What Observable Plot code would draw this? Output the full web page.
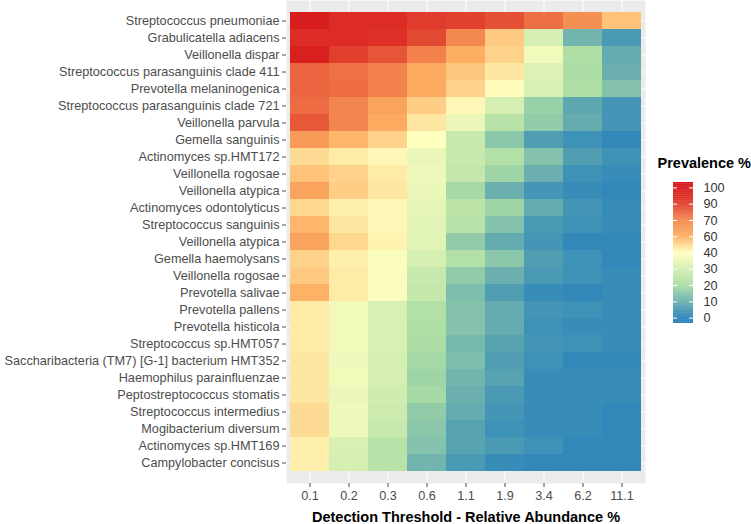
<!DOCTYPE html>
<html><head><meta charset="utf-8">
<script src="https://cdn.jsdelivr.net/npm/d3@7"></script>
<script src="https://cdn.jsdelivr.net/npm/@observablehq/plot@0.6"></script>
<style>
body{margin:0;background:#fff;}
#wrap{position:relative;width:751px;height:524px;font-family:"Liberation Sans",Arial,sans-serif;}
#legend{position:absolute;left:650px;top:140px;}
</style></head><body><div id="wrap"><div id="chart"></div><div id="legend"></div></div>
<script>
const species = [
  "Streptococcus pneumoniae","Grabulicatella adiacens","Veillonella dispar",
  "Streptococcus parasanguinis clade 411","Prevotella melaninogenica",
  "Streptococcus parasanguinis clade 721","Veillonella parvula","Gemella sanguinis",
  "Actinomyces sp.HMT172","Veillonella rogosae","Veillonella atypica",
  "Actinomyces odontolyticus","Streptococcus sanguinis","Veillonella atypica",
  "Gemella haemolysans","Veillonella rogosae","Prevotella salivae","Prevotella pallens",
  "Prevotella histicola","Streptococcus sp.HMT057",
  "Saccharibacteria (TM7) [G-1] bacterium HMT352","Haemophilus parainfluenzae",
  "Peptostreptococcus stomatis","Streptococcus intermedius","Mogibacterium diversum",
  "Actinomyces sp.HMT169","Campylobacter concisus"
];
const thresholds = ["0.1","0.2","0.3","0.6","1.1","1.9","3.4","6.2","11.1"];

// prevalence % per detection threshold (one value per species, top to bottom)
const prev_0_1  = [99,95,98,80,80,78,83,65,49,55,63,50,58,63,51,53,59,45,45,45,46,46,46,49,49,44,44];
const prev_0_2  = [95,95,90,76,78,71,71,58,45,51,52,44,46,50,44,45,45,37,37,37,36,37,35,36,36,31,30];
const prev_0_3  = [95,94,84,72,72,63,61,51,42,45,46,42,42,43,39,39,39,31,31,31,30,30,29,28,27,23,23];
const prev_0_6  = [91,87,72,61,61,52,46,40,35,36,35,34,33,33,30,27,26,22,21,20,19,18,19,16,15,14,11];
const prev_1_1  = [89,70,60,54,51,42,35,27,27,26,19,24,23,16,22,16,13,14,14,12,13,11,10,9,7,7,5];
const prev_1_9  = [85,53,51,46,41,30,23,15,22,18,10,18,14,9,15,10,6,9,9,7,6,7,5,4,3,5,2];
const prev_3_4  = [77,30,37,32,31,17,16,6,14,10,4,9,5,4,6,5,2,4,3,4,3,2,2,2,2,3,1];
const prev_6_2  = [68,11,21,20,21,8,9,3,6,3,2,4,3,1,3,3,1,3,2,3,1,2,2,2,2,1,1];
const prev_11_1 = [55,5,9,10,14,4,4,1,3,2,1,2,2,1,1,2,2,2,2,2,1,2,2,1,1,1,1];

const legendValues = [0,10,20,30,40,60,70,90,100];
const colorDomain = [0,20,40,60,100];
const colorRange = ["#2b83ba","#abdda4","#ffffbf","#fdae61","#d7191c"];

const columns = [prev_0_1,prev_0_2,prev_0_3,prev_0_6,prev_1_1,prev_1_9,prev_3_4,prev_6_2,prev_11_1];
const cells = thresholds.flatMap((t, j) => species.map((s, i) => ({row: i, threshold: t, value: columns[j][i]})));

const color = {type: "linear", domain: colorDomain, range: colorRange, interpolate: "rgb"};
const font = "Liberation Sans, Arial, sans-serif";

const chart = Plot.plot({
  width: 751, height: 524,
  marginLeft: 286, marginRight: 106, marginTop: 0, marginBottom: 41,
  style: {fontFamily: font, color: "#4d4d4d", background: "white"},
  x: {domain: thresholds, paddingInner: 0, paddingOuter: 0.1, label: null},
  y: {domain: d3.range(species.length), paddingInner: 0, paddingOuter: 0.1, label: null},
  color,
  marks: [
    Plot.frame({fill: "#ebebeb", stroke: "none"}),
    Plot.gridX({stroke: "white", strokeOpacity: 1, strokeWidth: 1}),
    Plot.gridY({stroke: "white", strokeOpacity: 1, strokeWidth: 1}),
    Plot.cell(cells, {x: "threshold", y: "row", fill: "value", inset: 0}),
    Plot.axisX({tickSize: 4, tickPadding: 3, fontSize: 12.7, label: null}),
    Plot.axisY({tickSize: 4, tickPadding: 3, fontSize: 12.7, tickFormat: i => species[i], label: null}),
    Plot.text(["Detection Threshold - Relative Abundance %"], {
      frameAnchor: "bottom", dy: 34, text: d => d, fontSize: 14.5, fontWeight: "bold",
      fill: "black", lineAnchor: "middle"
    })
  ]
});
document.getElementById("chart").append(chart);

// vertical colour bar legend: labels evenly spaced, colours from the same scale
const legendIdx = d3.range(legendValues.length);
const valueAt = p => {
  if (p <= 0) return legendValues[0];
  const n = legendValues.length - 1;
  if (p >= n) return legendValues[n];
  const k = Math.floor(p), f = p - k;
  return legendValues[k] + f * (legendValues[k + 1] - legendValues[k]);
};
const lo = -0.33, hi = legendValues.length - 1 + 0.33, stepSize = 0.04;
const segs = d3.range(lo, hi, stepSize).map(a => ({a, b: Math.min(hi, a + stepSize * 1.5), v: valueAt(a + stepSize / 2)}));

const legend = Plot.plot({
  width: 101, height: 200,
  marginLeft: 23, marginRight: 58, marginTop: 42, marginBottom: 17,
  x: {domain: [0, 1], axis: null},
  y: {domain: [lo, hi], axis: null},
  color,
  style: {fontFamily: font, background: "transparent", overflow: "visible"},
  marks: [
    Plot.rect(segs, {x1: 0, x2: 1, y1: "a", y2: "b", fill: "v", inset: 0}),
    Plot.ruleY(legendIdx, {y: d => d, x1: 0, x2: 0.2, stroke: "white"}),
    Plot.ruleY(legendIdx, {y: d => d, x1: 0.8, x2: 1, stroke: "white"}),
    Plot.text(legendIdx, {y: d => d, x: 1, dx: 10, text: i => String(legendValues[i]), textAnchor: "start", fontSize: 12.7, fill: "#333"}),
    Plot.text(["Prevalence %"], {frameAnchor: "top-left", dx: -16, dy: -19, text: d => d, fontWeight: "bold", fontSize: 14.5, fill: "black", textAnchor: "start", lineAnchor: "middle"})
  ]
});
document.getElementById("legend").append(legend);
</script>
</body></html>
